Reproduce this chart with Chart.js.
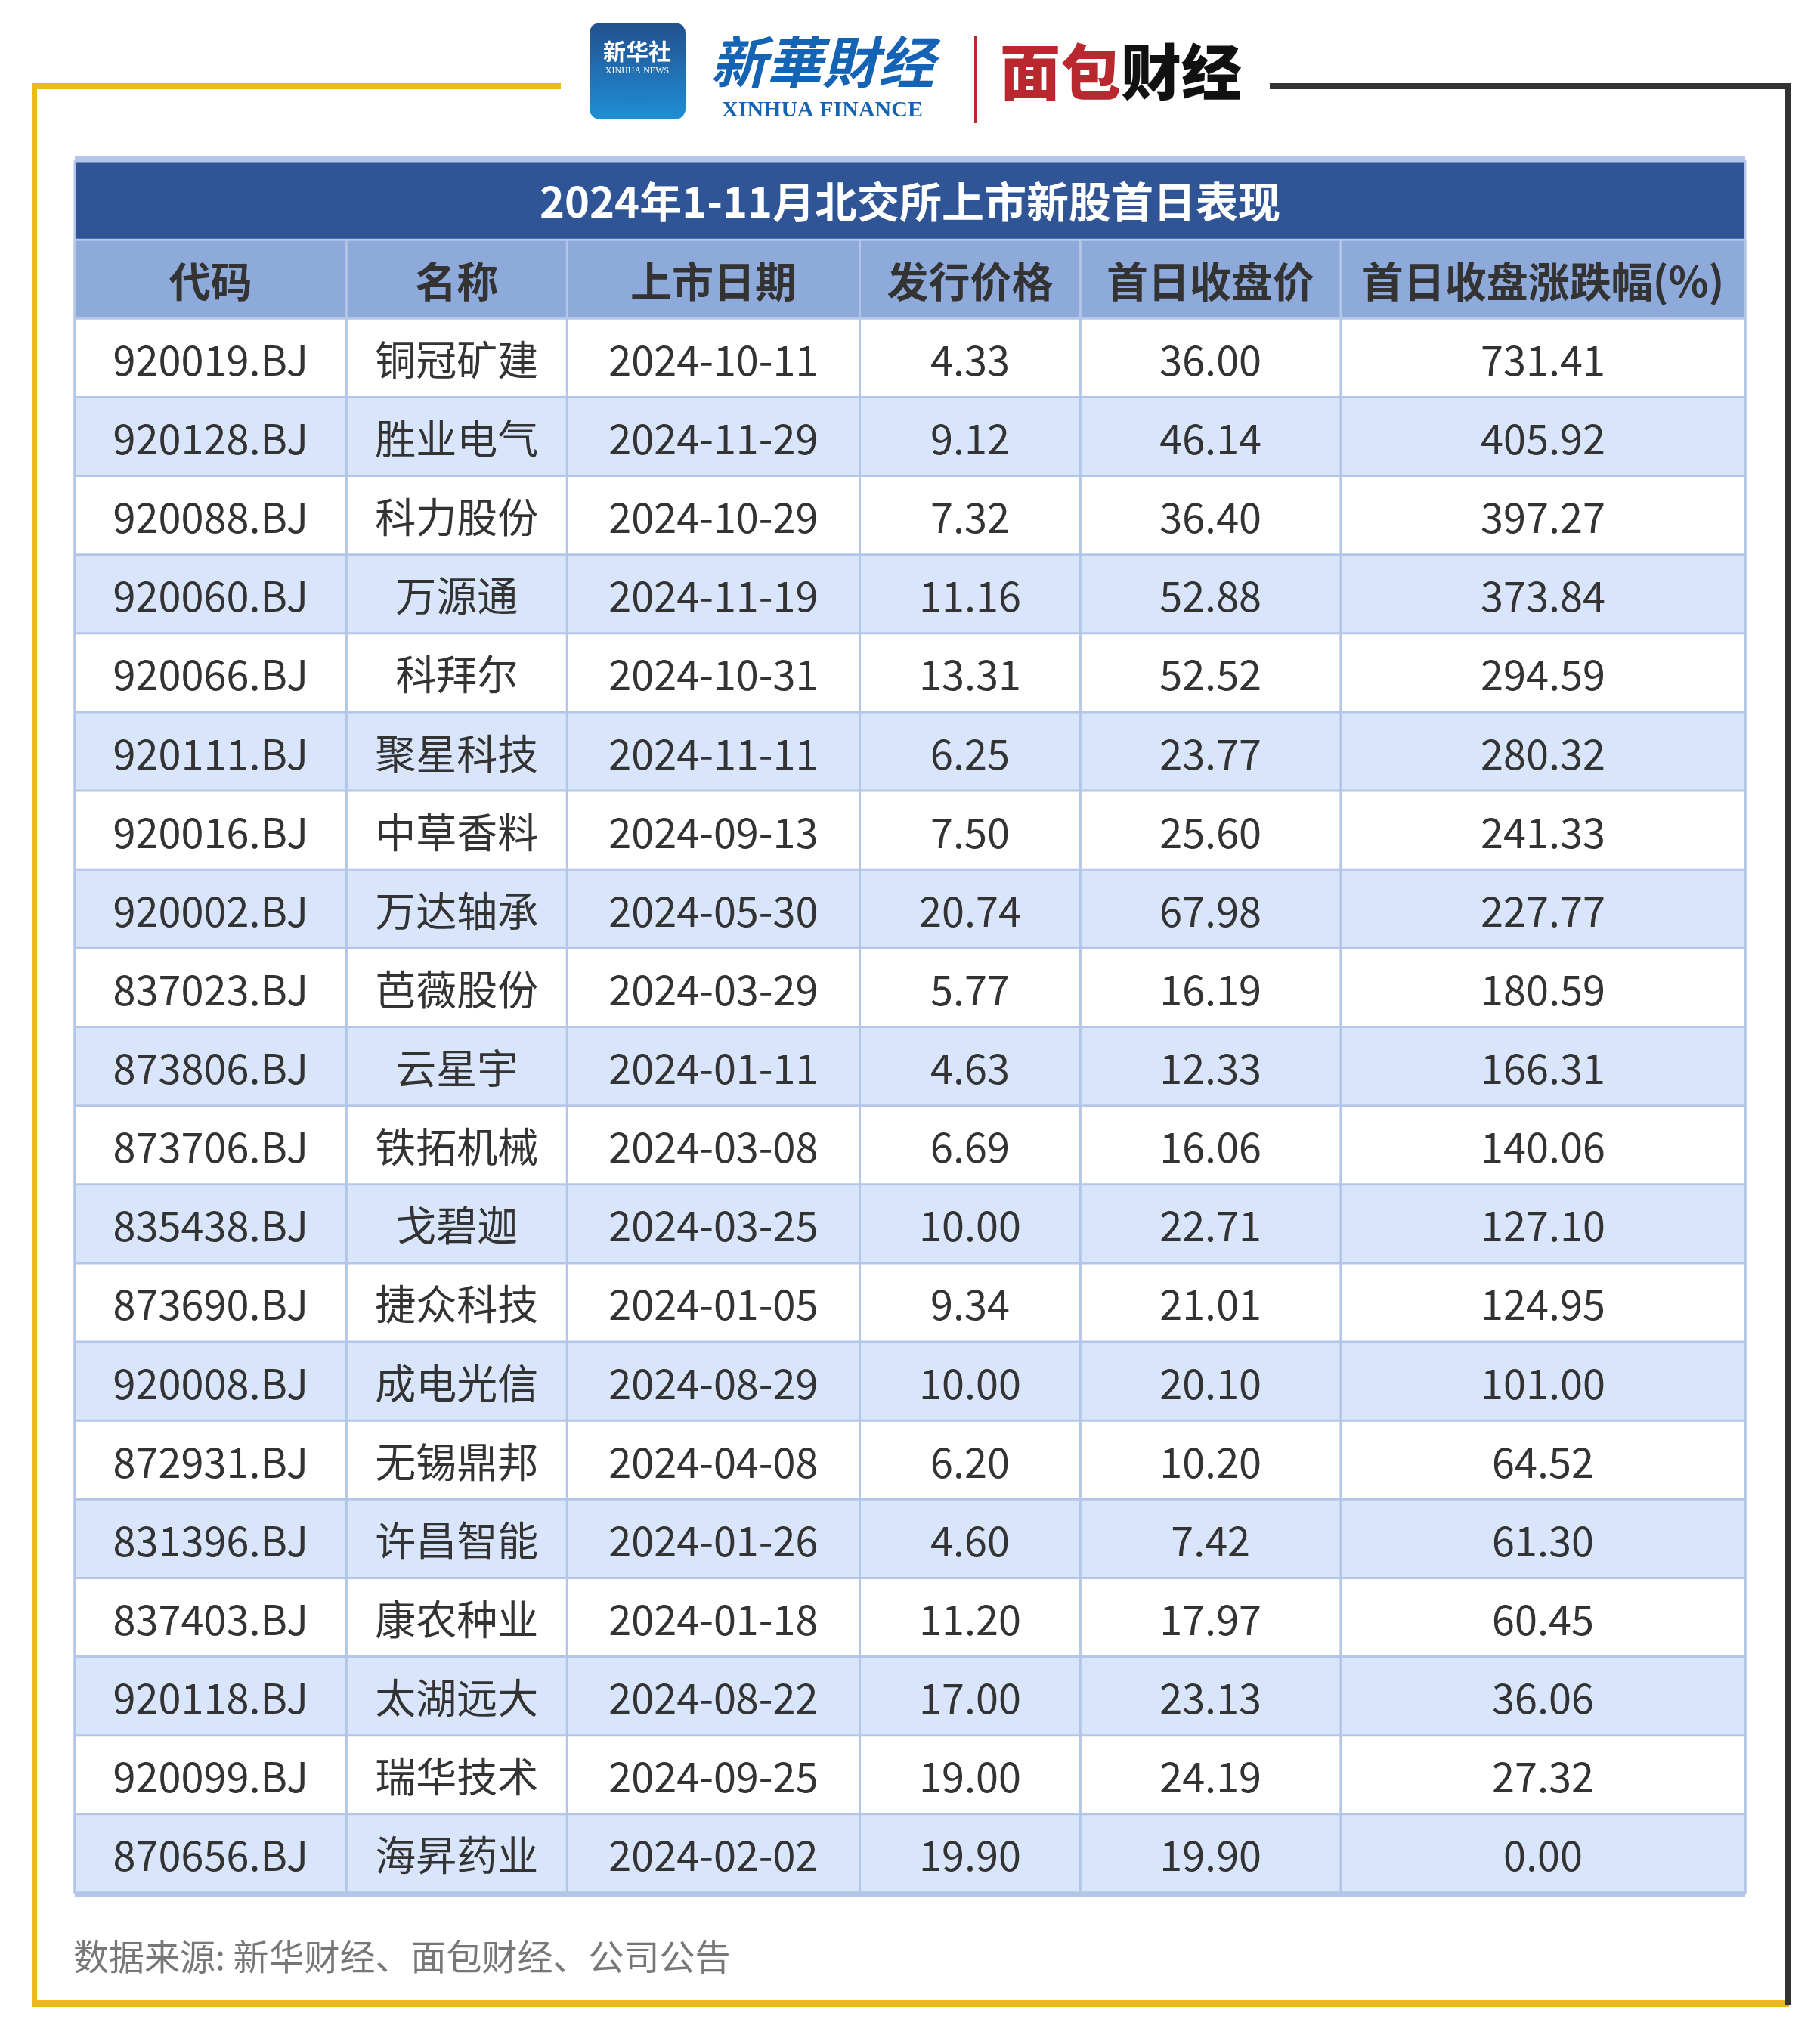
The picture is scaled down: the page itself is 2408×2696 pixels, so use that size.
<!DOCTYPE html>
<html><head><meta charset="utf-8">
<script src="https://cdn.jsdelivr.net/npm/chart.js@4"></script>
<style>html,body{margin:0;padding:0;background:#fff}#w{position:relative;width:2408px;height:2696px}</style>
</head><body><div id="w"><canvas id="c" width="2408" height="2696"></canvas></div>
<script>
const title = "2024年1-11月北交所上市新股首日表现";
const headers = ["代码","名称","上市日期","发行价格","首日收盘价","首日收盘涨跌幅(%)"];
const codes = ["920019.BJ","920128.BJ","920088.BJ","920060.BJ","920066.BJ","920111.BJ","920016.BJ","920002.BJ","837023.BJ","873806.BJ","873706.BJ","835438.BJ","873690.BJ","920008.BJ","872931.BJ","831396.BJ","837403.BJ","920118.BJ","920099.BJ","870656.BJ"];
const names = ["铜冠矿建","胜业电气","科力股份","万源通","科拜尔","聚星科技","中草香料","万达轴承","芭薇股份","云星宇","铁拓机械","戈碧迦","捷众科技","成电光信","无锡鼎邦","许昌智能","康农种业","太湖远大","瑞华技术","海昇药业"];
const dates = ["2024-10-11","2024-11-29","2024-10-29","2024-11-19","2024-10-31","2024-11-11","2024-09-13","2024-05-30","2024-03-29","2024-01-11","2024-03-08","2024-03-25","2024-01-05","2024-08-29","2024-04-08","2024-01-26","2024-01-18","2024-08-22","2024-09-25","2024-02-02"];
const issuePrice = ["4.33","9.12","7.32","11.16","13.31","6.25","7.50","20.74","5.77","4.63","6.69","10.00","9.34","10.00","6.20","4.60","11.20","17.00","19.00","19.90"];
const closePrice = ["36.00","46.14","36.40","52.88","52.52","23.77","25.60","67.98","16.19","12.33","16.06","22.71","21.01","20.10","10.20","7.42","17.97","23.13","24.19","19.90"];
const changePct = ["731.41","405.92","397.27","373.84","294.59","280.32","241.33","227.77","180.59","166.31","140.06","127.10","124.95","101.00","64.52","61.30","60.45","36.06","27.32","0.00"];
const source = "数据来源: 新华财经、面包财经、公司公告";
const colEdges = [0,362,656,1046,1340,1687,2226];

const columns = [codes,names,dates,issuePrice,closePrice,changePct];
const FONT = '"Noto Sans CJK SC","Noto Sans",sans-serif';

const tablePlugin = {
  id:'table',
  afterDraw(chart){
    const ctx = chart.ctx, xs = chart.scales.x, ys = chart.scales.y;
    const X = v=>xs.getPixelForValue(v), Y = v=>ys.getPixelForValue(v);
    const L = X(0), R = X(colEdges[colEdges.length-1]);
    ctx.save();
    ctx.fillStyle='#ecb81c';
    ctx.fillRect(42,110,700,8); ctx.fillRect(42,110,7,2545); ctx.fillRect(42,2646,2325,9);
    ctx.fillStyle='#333';
    ctx.fillRect(1680,110,689,8); ctx.fillRect(2362,110,7,2542);
    const g = ctx.createLinearGradient(0,30,0,160); g.addColorStop(0,'#22508f'); g.addColorStop(1,'#1f8fd6');
    ctx.fillStyle=g; roundRect(ctx,780,30,127,128,14); ctx.fill();
    ctx.fillStyle='#fff'; ctx.textAlign='center'; ctx.textBaseline='middle';
    ctx.font='bold 30px '+FONT; ctx.fillText('新华社',843,68);
    ctx.font='12px "Liberation Serif"'; ctx.fillText('XINHUA NEWS',843,94);
    ctx.fillStyle='#1463b4'; ctx.font='italic bold 74px "Noto Sans CJK SC"'; ctx.fillText('新華財经',1088,82);
    ctx.font='bold 30px "Liberation Serif"'; ctx.fillText('XINHUA FINANCE',1088,146);
    ctx.fillStyle='#b8282e'; ctx.fillRect(1289,48,4,115);
    ctx.font='900 80px "Noto Sans CJK SC"'; ctx.fillStyle='#b8282e'; ctx.fillText('面包',1403,95);
    ctx.fillStyle='#111'; ctx.fillText('财经',1563,95);
    ctx.fillStyle='rgba(150,160,180,0.15)'; ctx.font='italic 900 150px '+FONT; ctx.fillText('看新股',1210,1370);
    ctx.fillStyle='#b4c6e7'; ctx.fillRect(L,Y(-2)-6,R-L,6);
    ctx.fillStyle='#2f5597'; ctx.fillRect(L,Y(-2),R-L,Y(-1)-Y(-2));
    ctx.fillStyle='#fff'; ctx.font='bold 56px '+FONT; ctx.fillText(title,(L+R)/2,(Y(-2)+Y(-1))/2+2);
    ctx.fillStyle='#8eaadb'; ctx.fillRect(L,Y(-1),R-L,Y(0)-Y(-1));
    ctx.fillStyle='#333'; ctx.font='bold 55px '+FONT;
    headers.forEach((h,i)=>ctx.fillText(h,(X(colEdges[i])+X(colEdges[i+1]))/2,(Y(-1)+Y(0))/2+3));
    for(let r=0;r<codes.length;r++){
      ctx.fillStyle = r%2? '#d9e5fb':'#ffffff';
      ctx.fillRect(L,Y(r),R-L,Y(r+1)-Y(r));
      ctx.fillStyle='#333'; ctx.font='54px '+FONT;
      columns.forEach((col,i)=>ctx.fillText(col[r],(X(colEdges[i])+X(colEdges[i+1]))/2,(Y(r)+Y(r+1))/2+3));
    }
    ctx.strokeStyle='#b4c6e7'; ctx.lineWidth=3;
    for(let r=-1;r<=codes.length;r++){ctx.beginPath();ctx.moveTo(L,Y(r));ctx.lineTo(R,Y(r));ctx.stroke();}
    colEdges.forEach(e=>{ctx.beginPath();ctx.moveTo(X(e),Y(-1));ctx.lineTo(X(e),Y(codes.length));ctx.stroke();});
    ctx.strokeRect(L,Y(-2),R-L,Y(codes.length)-Y(-2));
    ctx.fillStyle='#b4c6e7'; ctx.fillRect(L,Y(codes.length),R-L,6);
    ctx.fillStyle='#777'; ctx.textAlign='left'; ctx.font='47px '+FONT;
    ctx.fillText(source,97,2588);
    ctx.restore();
  }
};
function roundRect(c,x,y,w,h,r){c.beginPath();c.moveTo(x+r,y);c.arcTo(x+w,y,x+w,y+h,r);c.arcTo(x+w,y+h,x,y+h,r);c.arcTo(x,y+h,x,y,r);c.arcTo(x,y,x+w,y,r);c.closePath();}

new Chart(document.getElementById('c'),{
  type:'scatter',
  data:{datasets:[{data:[],pointRadius:0}]},
  options:{
    responsive:false, animation:false, devicePixelRatio:1,
    layout:{padding:{left:99,right:99,top:213,bottom:192}},
    plugins:{legend:{display:false},tooltip:{enabled:false}},
    scales:{
      x:{type:'linear',min:0,max:colEdges[colEdges.length-1],display:false},
      y:{type:'linear',min:-2,max:codes.length,reverse:true,display:false}
    }
  },
  plugins:[tablePlugin]
});
</script></body></html>
